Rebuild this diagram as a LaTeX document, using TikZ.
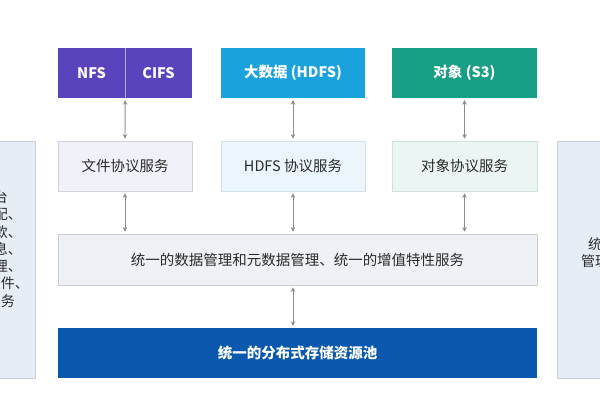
\documentclass[tikz,border=0pt]{standalone}
\usepackage{fontspec}
\setmainfont{Noto Sans CJK SC}
\usetikzlibrary{arrows.meta}
\definecolor{cPurple}{HTML}{5A44BE}
\definecolor{cHdfs}{HTML}{1AA2DD}
\definecolor{cTeal}{HTML}{179F86}
\definecolor{cFileFill}{HTML}{F1F1FA}
\definecolor{cFileLine}{HTML}{D2D2E2}
\definecolor{cHdfsFill}{HTML}{EAF6FC}
\definecolor{cHdfsLine}{HTML}{CDE2EB}
\definecolor{cObjFill}{HTML}{EBF6F4}
\definecolor{cObjLine}{HTML}{CFE2DE}
\definecolor{cMidFill}{HTML}{EEF1F6}
\definecolor{cMidLine}{HTML}{C8CDD7}
\definecolor{cPool}{HTML}{0A59AE}
\definecolor{cSideFill}{HTML}{E6EDF5}
\definecolor{cSideLine}{HTML}{C6D0DC}
\definecolor{cArrow}{HTML}{8C8C8C}
\definecolor{cText}{HTML}{2B2B2B}
\tikzset{
  topbox/.style={minimum height=50pt, inner sep=0pt, text=white, font=\fontsize{14.5pt}{17pt}\selectfont\bfseries},
  svcbox/.style={draw, line width=0.8pt, minimum height=50pt, inner sep=0pt, text=cText, font=\fontsize{14.5pt}{17pt}\selectfont},
  sidebox/.style={draw=cSideLine, fill=cSideFill, line width=0.8pt, inner sep=0pt},
  sidetext/.style={align=center, text=cText, inner sep=0pt, font=\fontsize{14pt}{17.3pt}\selectfont},
  biarrow/.style={draw=cArrow, line width=0.9pt, {Stealth[length=4.5pt,width=4.5pt]}-{Stealth[length=4.5pt,width=4.5pt]}, shorten <=2pt, shorten >=2pt}
}
\begin{document}
\begin{tikzpicture}[x=1pt,y=-1pt]
\clip (0,0) rectangle (600,400);
\fill[white] (0,0) rectangle (600,400);

% side boxes
\node[sidebox, minimum width=100pt, minimum height=237pt] (left) at (-15,259.5) {};
\node[sidetext] (lefttext) at (-34,249) {统一管理平台\\存储池资源分配、\\统一的服务条款、\\统一的告警信息、\\统一的用户管理、\\统一的版本与软件、\\统一的运维服务};
\node[sidebox, minimum width=100pt, minimum height=237pt] (right) at (607,259.5) {};
\node[sidetext] (righttext) at (623,252.5) {统一的运维\\管理监控平台};

% top row
\node[topbox, fill=cPurple, minimum width=67pt] (nfs) at (91.5,73) {NFS};
\node[topbox, fill=cPurple, minimum width=67pt] (cifs) at (158.5,73) {CIFS};
\draw[color=white!55!cPurple, line width=0.8pt] (nfs.north east) -- (nfs.south east);
\node[topbox, fill=cHdfs, minimum width=144pt] (hdfs) at (293,73) {大数据 (HDFS)};
\node[topbox, fill=cTeal, minimum width=145pt] (s3) at (464.5,73) {对象 (S3)};

% service row
\node[svcbox, draw=cFileLine, fill=cFileFill, minimum width=134pt] (filesvc) at (125,166) {文件协议服务};
\node[svcbox, draw=cHdfsLine, fill=cHdfsFill, minimum width=144pt] (hdfssvc) at (293,166) {HDFS 协议服务};
\node[svcbox, draw=cObjLine, fill=cObjFill, minimum width=145pt] (objsvc) at (464.5,166) {对象协议服务};

% middle
\node[svcbox, draw=cMidLine, fill=cMidFill, minimum width=479pt, minimum height=51pt] (mid) at (297.5,259.5) {统一的数据管理和元数据管理、统一的增值特性服务};

% pool
\node[topbox, fill=cPool, minimum width=479pt] (pool) at (297.5,353) {统一的分布式存储资源池};

% arrows
\draw[biarrow] (nfs.south east) -- (filesvc.north);
\draw[biarrow] (hdfs.south) -- (hdfssvc.north);
\draw[biarrow] (s3.south) -- (objsvc.north);
\draw[biarrow] (filesvc.south) -- (filesvc.south |- mid.north);
\draw[biarrow] (hdfssvc.south) -- (hdfssvc.south |- mid.north);
\draw[biarrow] (objsvc.south) -- (objsvc.south |- mid.north);
\draw[biarrow] (mid.south -| hdfssvc.south) -- (pool.north -| hdfssvc.south);
\end{tikzpicture}
\end{document}
